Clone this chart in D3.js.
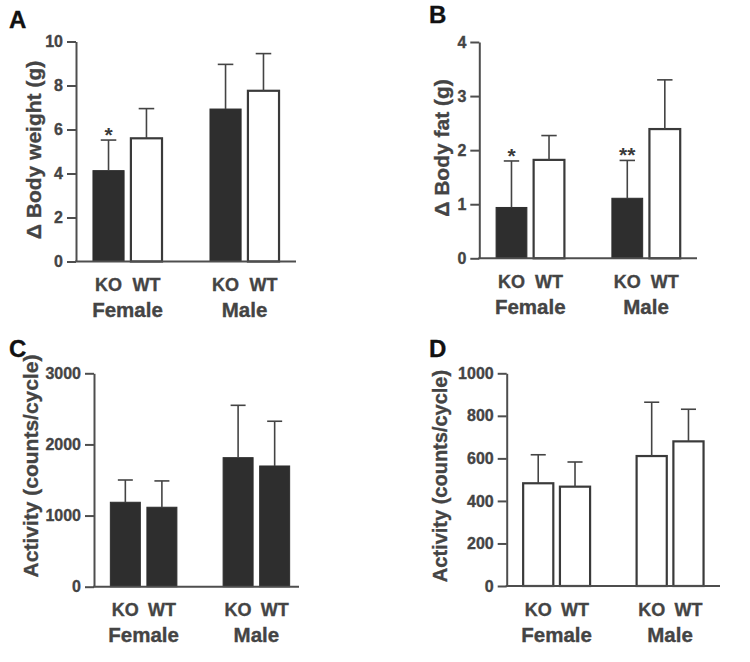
<!DOCTYPE html>
<html>
<head>
<meta charset="utf-8">
<script src="https://cdn.jsdelivr.net/npm/d3@7"></script>
<style>
  body { margin: 0; background: #fff; }
  svg { display: block; }
  text { font-family: "Liberation Sans", Arial, Helvetica, sans-serif; font-weight: bold; }
</style>
</head>
<body>
<svg id="chart" width="750" height="662"></svg>
<script>
// ---------------- data ----------------
const sexes = ["Female", "Male"];
const genotypes = ["KO", "WT"];
// bar order: Female-KO, Female-WT, Male-KO, Male-WT
const weightMean = [4.13, 5.60, 6.93, 7.76];
const weightSE   = [1.39, 1.35, 2.03, 1.69];
const fatMean    = [0.94, 1.82, 1.11, 2.39];
const fatSE      = [0.86, 0.45, 0.70, 0.91];
const activityCMean = [1187, 1117, 1814, 1697];
const activityCSE   = [313, 370, 736, 629];
const activityDMean = [483, 467, 611, 680];
const activityDSE   = [134, 116, 253, 151];
const weightTicks = [0, 2, 4, 6, 8, 10];
const fatTicks = [0, 1, 2, 3, 4];
const activityCTicks = [0, 1000, 2000, 3000];
const activityDTicks = [0, 200, 400, 600, 800, 1000];
const weightStars = ["*", "", "", ""];
const fatStars = ["*", "", "**", ""];
const noStars = ["", "", "", ""];

// ---------------- styling / layout ----------------
const TEXT = "#444";
const AXIS = "#4e4e4e";
const DARK = "#2e2e2e";
const TEXT_STROKE = 0.35;

const panels = [
  { letter: "A", lx: 9, ly: 28, x0: 76, xr: 296, xEnd: 296, yTop: 41.5, yBot: 261.5,
    max: 10, ticks: weightTicks, mean: weightMean, se: weightSE, stars: weightStars,
    fills: ["dark", "white", "dark", "white"], ylabel: "\u0394 Body weight (g)",
    ylx: 33, yly: 150, ylSize: 21 },
  { letter: "B", lx: 429, ly: 23, x0: 479.3, xr: 697, xEnd: 697, yTop: 42, yBot: 258.3,
    max: 4, ticks: fatTicks, mean: fatMean, se: fatSE, stars: fatStars,
    fills: ["dark", "white", "dark", "white"], ylabel: "\u0394 Body fat (g)",
    ylx: 441, yly: 148, ylSize: 21 },
  { letter: "C", lx: 9, ly: 357, x0: 94, xr: 306, xEnd: 299, yTop: 373.3, yBot: 586.7,
    max: 3000, ticks: activityCTicks, mean: activityCMean, se: activityCSE, stars: noStars,
    fills: ["dark", "dark", "dark", "dark"], ylabel: "Activity (counts/cycle)",
    ylx: 30, yly: 466, ylSize: 21 },
  { letter: "D", lx: 429, ly: 357, x0: 506.7, xr: 720, xEnd: 720, yTop: 373.3, yBot: 586,
    max: 1000, ticks: activityDTicks, mean: activityDMean, se: activityDSE, stars: noStars,
    fills: ["white", "white", "white", "white"], ylabel: "Activity (counts/cycle)",
    ylx: 440, yly: 476, ylSize: 20 }
];

const svg = d3.select("#chart");

function heavy(sel, color) {
  sel.attr("fill", color).attr("stroke", color).attr("stroke-width", TEXT_STROKE);
}

function drawPanel(cfg) {
  const g = svg.append("g");

  const xOuter = d3.scaleBand().domain(sexes).range([cfg.x0, cfg.xr])
    .paddingInner(0.41).paddingOuter(0.145);
  const xInner = d3.scaleBand().domain(genotypes).range([0, xOuter.bandwidth()])
    .paddingInner(0.18);
  const y = d3.scaleLinear().domain([0, cfg.max]).range([cfg.yBot, cfg.yTop]);

  const data = cfg.mean.map((m, i) => ({
    sex: sexes[Math.floor(i / 2)], geno: genotypes[i % 2],
    mean: m, se: cfg.se[i], star: cfg.stars[i], fill: cfg.fills[i]
  }));
  const bw = xInner.bandwidth();
  const cx = d => xOuter(d.sex) + xInner(d.geno) + bw / 2;

  // bars
  g.selectAll("rect.bar").data(data).enter().append("rect")
    .attr("class", "bar")
    .attr("x", d => xOuter(d.sex) + xInner(d.geno))
    .attr("y", d => y(d.mean))
    .attr("width", bw)
    .attr("height", d => cfg.yBot - y(d.mean))
    .attr("fill", d => d.fill === "dark" ? DARK : "#fff")
    .attr("stroke", d => d.fill === "dark" ? DARK : "#3a3a3a")
    .attr("stroke-width", d => d.fill === "dark" ? 1 : 2.2);

  // error bars (upper only)
  g.selectAll("line.whisker").data(data).enter().append("line")
    .attr("x1", cx).attr("x2", cx)
    .attr("y1", d => y(d.mean)).attr("y2", d => y(d.mean + d.se))
    .attr("stroke", "#444").attr("stroke-width", 1.6);
  g.selectAll("line.cap").data(data).enter().append("line")
    .attr("x1", d => cx(d) - bw * 0.25).attr("x2", d => cx(d) + bw * 0.25)
    .attr("y1", d => y(d.mean + d.se)).attr("y2", d => y(d.mean + d.se))
    .attr("stroke", "#444").attr("stroke-width", 1.6);

  // significance stars
  g.selectAll("text.star").data(data.filter(d => d.star)).enter().append("text")
    .attr("x", cx).attr("y", d => y(d.mean + d.se) + 2)
    .attr("text-anchor", "middle").style("font-size", "21px").attr("fill", "#3a3a3a")
    .text(d => d.star);

  // y axis
  const ya = g.append("g").attr("transform", `translate(${cfg.x0},0)`)
    .call(d3.axisLeft(y).tickValues(cfg.ticks).tickSize(9).tickSizeOuter(0).tickPadding(4)
      .tickFormat(d3.format("d")));
  ya.select(".domain").attr("stroke", AXIS).attr("stroke-width", 2);
  ya.selectAll(".tick line").attr("stroke", AXIS).attr("stroke-width", 2);
  ya.selectAll(".tick text")
    .style("font-size", "16px")
    .style("font-family", "'Liberation Sans', Arial, sans-serif")
    .style("font-weight", "bold")
    .call(heavy, TEXT);

  // x axis baseline
  g.append("line").attr("x1", cfg.x0 - 1).attr("x2", cfg.xEnd)
    .attr("y1", cfg.yBot).attr("y2", cfg.yBot)
    .attr("stroke", AXIS).attr("stroke-width", 2);

  // genotype labels
  g.selectAll("text.geno").data(data).enter().append("text")
    .attr("x", cx).attr("y", cfg.yBot + 29.5)
    .attr("text-anchor", "middle").style("font-size", "18px")
    .call(heavy, TEXT)
    .text(d => d.geno);
  // sex labels
  g.selectAll("text.sex").data(sexes).enter().append("text")
    .attr("x", s => xOuter(s) + xOuter.bandwidth() / 2).attr("y", cfg.yBot + 55.5)
    .attr("text-anchor", "middle").style("font-size", "20.5px")
    .call(heavy, TEXT)
    .text(s => s);

  // y label
  g.append("text")
    .attr("transform", `translate(${cfg.ylx},${cfg.yly}) rotate(-90)`)
    .attr("text-anchor", "middle").attr("dominant-baseline", "central")
    .style("font-size", cfg.ylSize + "px")
    .call(heavy, TEXT)
    .text(cfg.ylabel);

  // panel letter
  g.append("text").attr("x", cfg.lx).attr("y", cfg.ly)
    .style("font-size", "24px").call(heavy, "#111").text(cfg.letter);
}

panels.forEach(drawPanel);
</script>
</body>
</html>
